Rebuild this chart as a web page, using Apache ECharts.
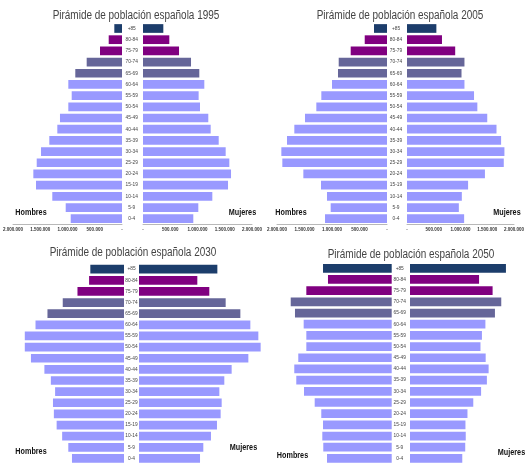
<!DOCTYPE html>
<html>
<head>
<meta charset="utf-8">
<script src="https://cdn.jsdelivr.net/npm/echarts@6/dist/echarts.min.js"></script>
<style>
  html, body { margin: 0; padding: 0; background: #ffffff; }
  #chart { width: 527px; height: 464px; }
</style>
</head>
<body>
<div id="chart"></div>
<script>
// Age groups, top of the pyramid first
const edades = ['+85','80-84','75-79','70-74','65-69','60-64','55-59','50-54','45-49',
                '40-44','35-39','30-34','25-29','20-24','15-19','10-14','5-9','0-4'];

// Population by age group (persons)
const hombres1995 = [141000,244000,404000,648000,857000,985000,923000,985000,1138000,
                     1187000,1334000,1486000,1565000,1627000,1578000,1279000,1033000,941000];
const mujeres1995 = [373000,483000,661000,881000,1033000,1125000,1021000,1046000,1198000,
                     1242000,1389000,1517000,1584000,1615000,1560000,1272000,1015000,923000];

const hombres2005 = [236000,405000,660000,878000,891000,1000000,1194000,1285000,1491000,
                     1685000,1818000,1921000,1903000,1521000,1200000,1091000,1024000,1127000];
const mujeres2005 = [549000,654000,901000,1074000,1019000,1074000,1253000,1315000,1500000,
                     1673000,1759000,1821000,1809000,1457000,1142000,1025000,969000,1068000];

const hombres2030 = [679000,704000,938000,1235000,1543000,1784000,2000000,2000000,1876000,
                     1605000,1475000,1389000,1432000,1414000,1358000,1247000,1123000,1049000];
const mujeres2030 = [1451000,1080000,1302000,1605000,1877000,2062000,2210000,2253000,2025000,
                     1716000,1580000,1488000,1531000,1512000,1444000,1333000,1191000,1130000];

const hombres2050 = [1272000,1180000,1581000,1870000,1791000,1630000,1581000,1581000,1730000,
                     1804000,1767000,1624000,1426000,1304000,1272000,1285000,1267000,1198000];
const mujeres2050 = [2050000,1476000,1765000,1950000,1815000,1611000,1537000,1506000,1617000,
                     1680000,1643000,1519000,1352000,1228000,1185000,1191000,1180000,1117000];

// Axis tick values shown under the upper pyramids
const ticksEje = [0, 500000, 1000000, 1500000, 2000000];

const años = ['1995', '2005', '2030', '2050'];
const hombres = [hombres1995, hombres2005, hombres2030, hombres2050];
const mujeres = [mujeres1995, mujeres2005, mujeres2030, mujeres2050];

// Layout of each pyramid (pixels)
const paneles = [
  { tituloX: 136, tituloY: 16, top: 22.9, height: 201.4, ceroIzq: 122, ceroDer: 143, pxIzq: 54.5, pxDer: 54.5, eje: true, max: 2000000, margen: 11.3,
    hombres: [31, 212], mujeres: [242.5, 212] },
  { tituloX: 400, tituloY: 16, top: 22.9, height: 201.4, ceroIzq: 387, ceroDer: 407, pxIzq: 55, pxDer: 54, eje: true, max: 2000000, margen: 11,
    hombres: [291, 212], mujeres: [507, 212] },
  { tituloX: 133, tituloY: 253, top: 263.6, height: 201, ceroIzq: 124, ceroDer: 139, pxIzq: 54, pxDer: 54, eje: false, max: 2500000, margen: 7.5,
    hombres: [31, 451], mujeres: [243.5, 447] },
  { tituloX: 411, tituloY: 255, top: 262.7, height: 203, ceroIzq: 391.7, ceroDer: 410, pxIzq: 54, pxDer: 54, eje: false, max: 2500000, margen: 10.3,
    hombres: [292.5, 455], mujeres: [511.5, 452] }
];

const colorEdad = (i) => i === 0 ? '#1c3d6b' : (i <= 2 ? '#800080' : (i <= 4 ? '#666699' : '#9999ff'));
const fmtMiles = (v) => v === 0 ? '-' : String(v).replace(/\B(?=(\d{3})+(?!\d))/g, '.');

const fuente = "'Liberation Sans', Arial, sans-serif";

const grid = [], xAxis = [], yAxis = [], series = [], graphic = [];

paneles.forEach((p, k) => {
  const anchoIzq = p.max / 1e6 * p.pxIzq;
  const anchoDer = p.max / 1e6 * p.pxDer;
  // left half (men)
  grid.push({ left: p.ceroIzq - anchoIzq, width: anchoIzq, top: p.top, height: p.height });
  // right half (women)
  grid.push({ left: p.ceroDer, width: anchoDer, top: p.top, height: p.height });

  [0, 1].forEach((lado) => {
    const gi = k * 2 + lado;
    xAxis.push({
      type: 'value', gridIndex: gi, min: 0, max: p.max, interval: 500000,
      inverse: lado === 0,
      splitLine: { show: false },
      axisTick: { show: false },
      axisLine: { show: p.eje, lineStyle: { color: '#b8b8b8', width: 1 } },
      axisLabel: {
        show: p.eje, margin: 3, fontSize: 4.5, fontWeight: 'bold', color: '#333',
        fontFamily: fuente, showMinLabel: true, showMaxLabel: true,
        formatter: (v) => ticksEje.includes(v) ? fmtMiles(v) : ''
      }
    });
    yAxis.push({
      type: 'category', gridIndex: gi, data: edades, inverse: true,
      axisLine: { show: false }, axisTick: { show: false }, splitLine: { show: false },
      axisLabel: {
        show: lado === 1, align: 'center', margin: p.margen,
        fontSize: 4.8, color: '#444', fontFamily: fuente
      }
    });
    series.push({
      type: 'bar', xAxisIndex: gi, yAxisIndex: gi,
      data: (lado === 0 ? hombres[k] : mujeres[k]),
      barCategoryGap: '22%',
      silent: true,
      itemStyle: { color: (d) => colorEdad(d.dataIndex) }
    });
  });

  graphic.push({
    type: 'text', x: p.tituloX, y: p.tituloY, scaleX: 0.83,
    style: { text: 'Pirámide de población española ' + años[k], fill: '#444', font: '12px ' + fuente,
             align: 'center', verticalAlign: 'middle' }
  });
  graphic.push({
    type: 'text', x: p.hombres[0], y: p.hombres[1], scaleX: 0.76,
    style: { text: 'Hombres', fill: '#111', font: 'bold 9.5px ' + fuente, align: 'center', verticalAlign: 'middle' }
  });
  graphic.push({
    type: 'text', x: p.mujeres[0], y: p.mujeres[1], scaleX: 0.76,
    style: { text: 'Mujeres', fill: '#111', font: 'bold 9.5px ' + fuente, align: 'center', verticalAlign: 'middle' }
  });
});

const chart = echarts.init(document.getElementById('chart'), null, { renderer: 'canvas' });
chart.setOption({
  animation: false,
  backgroundColor: '#ffffff',
  grid, xAxis, yAxis, series, graphic
});
</script>
</body>
</html>
